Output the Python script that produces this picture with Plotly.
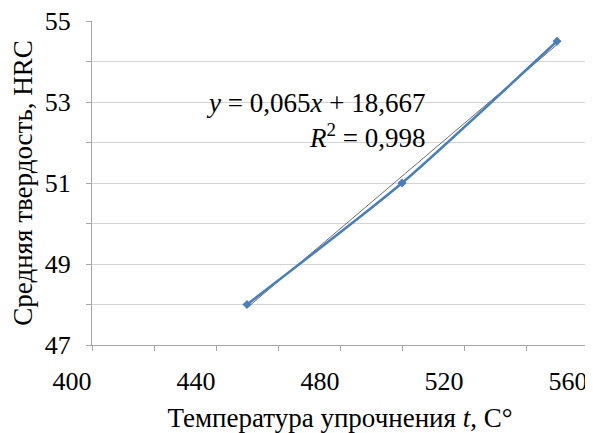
import numpy as np
import plotly.graph_objects as go

temps = [450, 500, 550]
hardness = [48.0, 51.0, 54.5]
eq_text = "<i>y</i> = 0,065<i>x</i> + 18,667<br><i>R</i><sup>2</sup> = 0,998"
x_title = "Температура упрочнения <i>t</i>, C°"
y_title = "Средняя твердость, HRC"

slope, intercept = np.polyfit(temps, hardness, 1)
trend_x = [temps[0], temps[-1]]
trend_y = [slope * v + intercept for v in trend_x]

font = "Liberation Serif, Times New Roman, serif"
axis_col = "#a6a6a6"
grid_col = "#d4d4d4"

fig = go.Figure()
fig.add_trace(go.Scatter(x=trend_x, y=trend_y, mode="lines",
                         line=dict(color="#6e6e6e", width=1), showlegend=False))
fig.add_trace(go.Scatter(x=temps, y=hardness, mode="lines+markers",
                         line=dict(color="#4a7ebb", width=2.5, shape="spline", smoothing=0.6),
                         marker=dict(symbol="diamond", size=7, color="#4a7ebb"),
                         showlegend=False))

fig.add_annotation(x=508, y=52.55, xref="x", yref="y", text=eq_text, showarrow=False,
                   xanchor="right", yanchor="middle", align="right",
                   font=dict(family=font, size=27, color="black"))

# the page body adds an 8px margin; size/margins compensate so the plot area matches
fig.update_layout(
    width=585, height=425,
    margin=dict(l=84, r=5, t=13, b=88),
    paper_bgcolor="white", plot_bgcolor="white",
    font=dict(family=font, size=26, color="black"),
)
fig.update_xaxes(range=[400, 560], tick0=400, dtick=40,
                 showgrid=False, showline=True, linecolor=axis_col, linewidth=1,
                 ticks="outside", ticklen=5, tickcolor=axis_col,
                 minor=dict(dtick=20, ticks="outside", ticklen=5, tickcolor=axis_col, showgrid=False),
                 ticklabelstandoff=8, ticklabelshift=-20, ticklabeloverflow="allow",
                 zeroline=False, automargin=False,
                 tickfont=dict(family=font, size=26),
                 title=dict(text=x_title, standoff=18, font=dict(family=font, size=27)))
fig.update_yaxes(range=[47, 55], tick0=47, dtick=2,
                 showgrid=True, gridcolor=grid_col, gridwidth=1,
                 showline=True, linecolor=axis_col, linewidth=1,
                 ticks="outside", ticklen=5, tickcolor=axis_col,
                 minor=dict(dtick=1, ticks="outside", ticklen=5, tickcolor=axis_col,
                            showgrid=True, gridcolor=grid_col, gridwidth=1),
                 ticklabelstandoff=10, ticklabeloverflow="allow",
                 zeroline=False, automargin=False,
                 tickfont=dict(family=font, size=26),
                 title=dict(text=y_title, standoff=10, font=dict(family=font, size=27)))

fig.write_html("out.html")
